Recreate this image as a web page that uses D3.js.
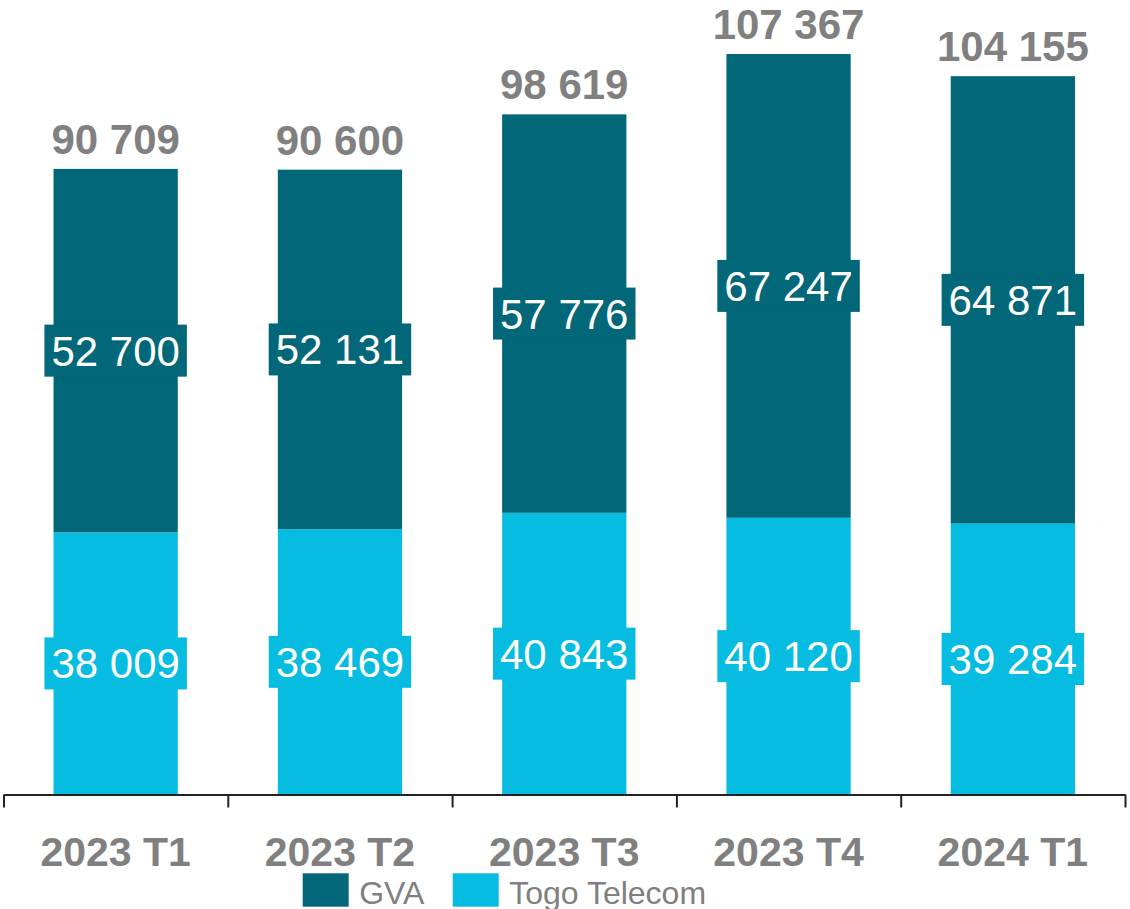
<!DOCTYPE html>
<html>
<head>
<meta charset="utf-8">
<script src="https://cdn.jsdelivr.net/npm/d3@7"></script>
<style>
  body { margin: 0; background: #fff; }
  svg { display: block; font-family: "Liberation Sans", Arial, sans-serif; }
</style>
</head>
<body>
<svg width="1130" height="909"></svg>
<script>
// data
const quarters = ['2023 T1', '2023 T2', '2023 T3', '2023 T4', '2024 T1'];
const togo = [38009, 38469, 40843, 40120, 39284];
const gva = [52700, 52131, 57776, 67247, 64871];
const totals = [90709, 90600, 98619, 107367, 104155];
const seriesNames = ['GVA', 'Togo Telecom'];

const dark = '#03677A';
const light = '#06BCE1';
const grey = '#808080';

let svg = d3.select('svg');
const baseY = 794.5;

let x = d3.scaleBand().domain(quarters)
  .range([3.5, 1125])
  .paddingInner(0.446)
  .paddingOuter(0.223);

let y = d3.scaleLinear().domain([0, 115200]).range([baseY, 0]);

const fmt = v => d3.format(',')(v).replace(/,/g, ' ');

let rows = quarters.map((q, i) => ({ q: q, togo: togo[i], gva: gva[i], total: totals[i] }));
let stack = d3.stack().keys(['togo', 'gva'])(rows);
const colours = { togo: light, gva: dark };

// bars
svg.append('g').selectAll('g')
  .data(stack)
  .join('g')
    .attr('fill', d => colours[d.key])
  .selectAll('rect')
  .data(d => d)
  .join('rect')
    .attr('x', d => x(d.data.q))
    .attr('width', x.bandwidth())
    .attr('y', d => y(d[1]))
    .attr('height', d => y(d[0]) - y(d[1]));

// segment labels with filled boxes
let labels = svg.append('g');
stack.forEach(layer => {
  layer.forEach(d => {
    let cx = x(d.data.q) + x.bandwidth() / 2;
    let cy = (y(d[0]) + y(d[1])) / 2;
    let g = labels.append('g');
    let box = g.append('rect').attr('fill', colours[layer.key]);
    let t = g.append('text')
      .attr('x', cx)
      .attr('y', cy + 15)
      .attr('text-anchor', 'middle')
      .attr('fill', '#fff')
      .attr('font-size', 42)
      .text(fmt(d.data[layer.key]));
    let bb = t.node().getBBox();
    box.attr('x', bb.x - 7).attr('width', bb.width + 14)
      .attr('y', cy - 26).attr('height', 52);
  });
});

// totals
svg.append('g').selectAll('text')
  .data(rows)
  .join('text')
    .attr('x', d => x(d.q) + x.bandwidth() / 2)
    .attr('y', d => y(d.total) - 15)
    .attr('text-anchor', 'middle')
    .attr('font-weight', 'bold')
    .attr('font-size', 42)
    .attr('fill', grey)
    .text(d => fmt(d.total));

// axis with ticks at band edges
let edges = d3.scaleLinear().domain([0, quarters.length]).range([3.5, 1125]);
svg.append('g')
  .attr('transform', 'translate(0,' + baseY + ')')
  .call(d3.axisBottom(edges).tickValues(d3.range(quarters.length + 1))
    .tickSize(13).tickSizeOuter(0).tickFormat(''))
  .call(g => g.selectAll('path, line').attr('stroke', '#222').attr('stroke-width', 2));

svg.append('g').selectAll('text')
  .data(quarters)
  .join('text')
    .attr('x', d => x(d) + x.bandwidth() / 2)
    .attr('y', 866)
    .attr('text-anchor', 'middle')
    .attr('font-weight', 'bold')
    .attr('font-size', 41)
    .attr('fill', grey)
    .text(d => d);

// legend
const legendX = [302.7, 452.7];
let legend = svg.append('g');
seriesNames.forEach((name, i) => {
  legend.append('rect')
    .attr('x', legendX[i]).attr('y', 873.3)
    .attr('width', 46).attr('height', 33.4)
    .attr('fill', i == 0 ? dark : light);
  legend.append('text')
    .attr('x', legendX[i] + 56.5)
    .attr('y', 904)
    .attr('font-size', 32)
    .attr('fill', grey)
    .text(name);
});
</script>
</body>
</html>
